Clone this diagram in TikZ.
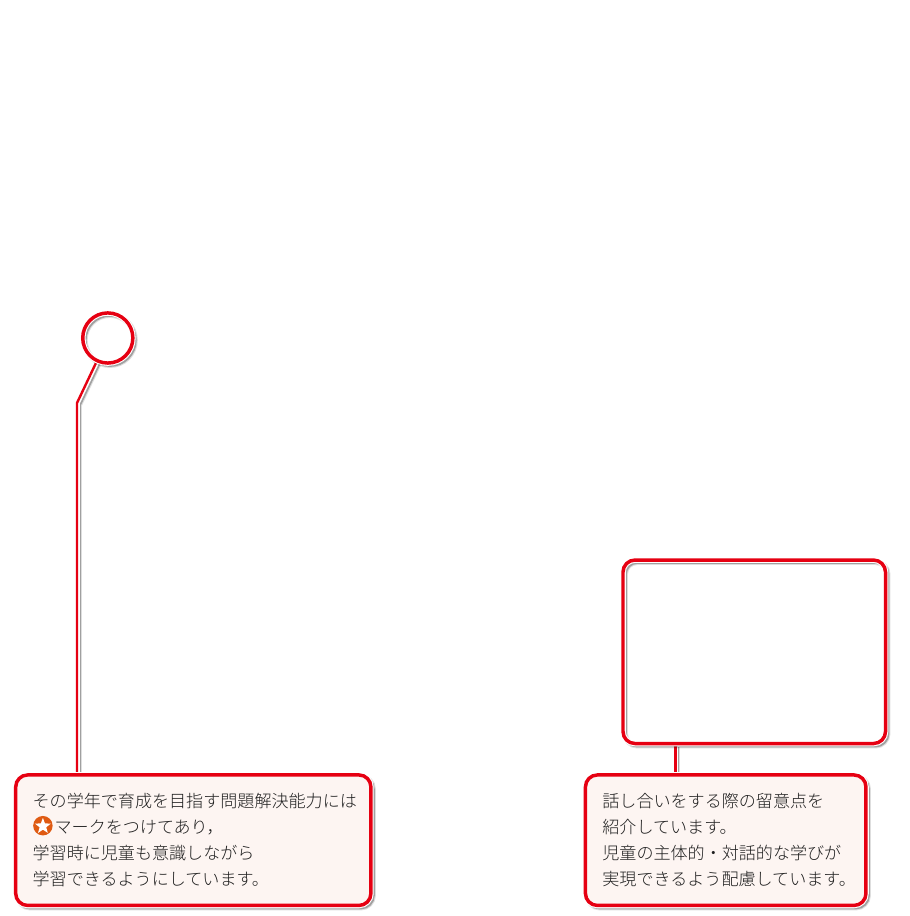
\documentclass[tikz,border=0pt]{standalone}
\usepackage{fontspec}
\usetikzlibrary{shapes.geometric,backgrounds}
\newfontfamily\jpfont{Noto Sans CJK JP Light}
\definecolor{callred}{HTML}{E60012}
\definecolor{callfill}{HTML}{FDF5F2}
\definecolor{calltext}{HTML}{1E1E1E}
\definecolor{iconorange}{HTML}{DF5A12}
\tikzset{
  x=0.75pt,y=0.75pt,
  softshadow/.style={
    preaction={draw=black,draw opacity=.13,line width=4.2pt,transform canvas={shift={(1.6pt,-1.6pt)}}},
    preaction={draw=black,draw opacity=.28,line width=2.6pt,transform canvas={shift={(1.6pt,-1.6pt)}}},
    preaction={draw=white,line width=4.2pt}},
  callout/.style={softshadow,draw=callred,line width=2.6pt,rounded corners=9pt,outer sep=0pt,inner ysep=0pt},
  textbox/.style={callout,fill=callfill,minimum height=97.9pt,inner xsep=12.7pt,align=left,
    text=calltext,font=\jpfont\fontsize{12.8pt}{19.6pt}\selectfont},
  emptybox/.style={callout,minimum width=196.9pt,minimum height=137.6pt},
  ringnode/.style={softshadow,circle,draw=callred,line width=2.6pt,minimum size=37.6pt,inner sep=0pt,outer sep=0pt},
  leaderline/.style={softshadow,draw=callred,line width=1.8pt,line join=bevel},
  staricon/.style={circle,fill=iconorange,minimum size=14.6pt,inner sep=0pt,outer sep=0pt},
  starmark/.style={star,star points=5,star point ratio=2.4,fill=white,minimum size=12.5pt,inner sep=0pt,outer sep=0pt}
}
\begin{document}
\begin{tikzpicture}
\useasboundingbox (0,0) rectangle (909,916);
\node[ringnode] (ring) at (107.8,578) {};
\node[emptybox] (panel) at (754.25,264.2) {};
\node[textbox,text width=241pt] (left) at (193.3,75.8) {\rlap{その学年で育成を目指す問題解決能力には}\\
\hspace*{16.5pt}マークをつけてあり，\\
学習時に児童も意識しながら\\
学習できるようにしています。};
\node[textbox,text width=185pt] (right) at (725.7,75.8) {話し合いをする際の留意点を\\
紹介しています。\\
児童の主体的・対話的な学びが\\
\rlap{実現できるよう配慮しています。}};
\node[staricon] (icon) at (42.9,90.3) {};
\node[starmark] (iconstar) at (42.9,89.8) {};
\coordinate (bend) at (77,513);
\coordinate (drop) at (77,142);
\coordinate (paneldrop) at (675.5,171);
\coordinate (rightrise) at (675.5,142);
\begin{pgfonlayer}{background}
\fill[white] (0,0) rectangle (909,916);
\draw[leaderline] (ring) -- (bend) -- (drop);
\draw[leaderline] (paneldrop) -- (rightrise);
\end{pgfonlayer}
\end{tikzpicture}
\end{document}
